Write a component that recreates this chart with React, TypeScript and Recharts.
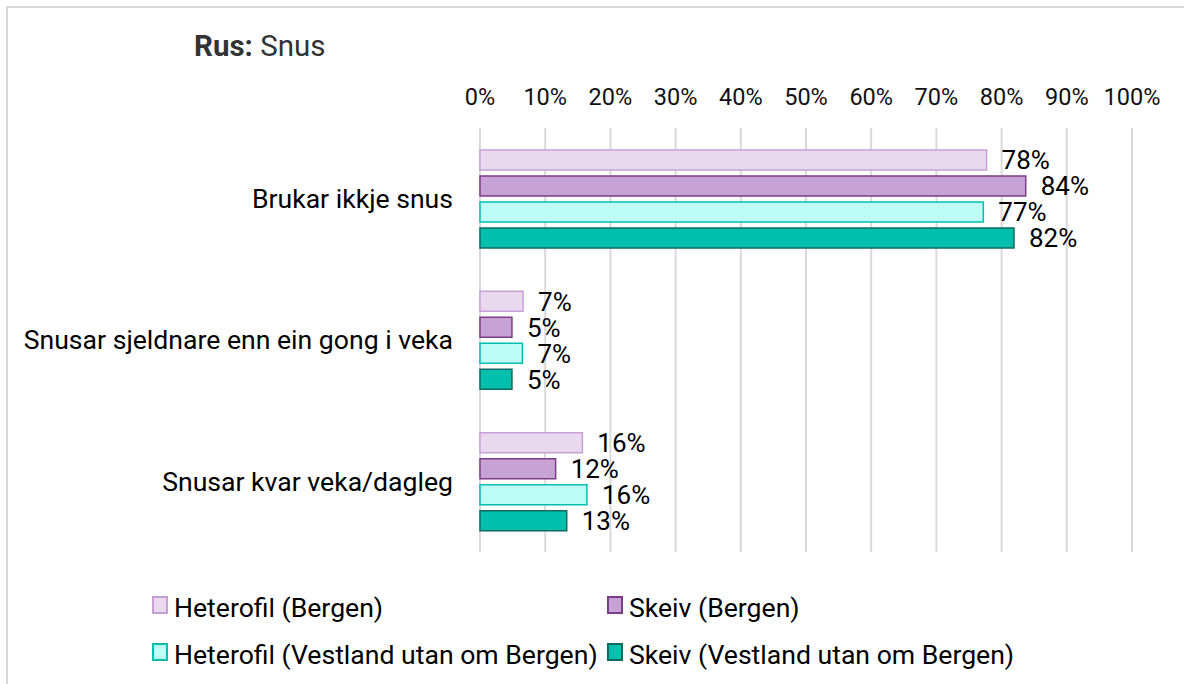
import React from 'react';
import { BarChart, Bar, XAxis, YAxis, CartesianGrid, LabelList } from 'recharts';

const categories = ['Brukar ikkje snus', 'Snusar sjeldnare enn ein gong i veka', 'Snusar kvar veka/dagleg'];
const seriesNames = ['Heterofil (Bergen)', 'Skeiv (Bergen)', 'Heterofil (Vestland utan om Bergen)', 'Skeiv (Vestland utan om Bergen)'];
const heteroBergen = [77.7, 6.6, 15.7];
const skeivBergen = [83.7, 4.9, 11.6];
const heteroVestland = [77.2, 6.5, 16.4];
const skeivVestland = [81.9, 4.9, 13.3];
const xTicks = [0, 10, 20, 30, 40, 50, 60, 70, 80, 90, 100];

const fills = ['#E9D9EF', '#C9A2D5', '#BEFCF6', '#00BFAD'];
const strokes = ['#C9A0D6', '#7A3D87', '#00BFAE', '#0F6A62'];
const keys = ['s0', 's1', 's2', 's3'];

const data = categories.map((name, i) => ({
  name,
  s0: heteroBergen[i],
  s1: skeivBergen[i],
  s2: heteroVestland[i],
  s3: skeivVestland[i],
}));

const FONT = 'Roboto, "Noto Sans", sans-serif';

const legendPos = [
  { x: 152, y: 617 },
  { x: 607, y: 617 },
  { x: 152, y: 664 },
  { x: 607, y: 664 },
];

export default function App() {
  return (
    <div style={{ position: 'absolute', left: 0, top: 0, width: 1184, height: 684, overflow: 'hidden', background: '#fff', fontFamily: FONT }}>
      <div style={{ position: 'absolute', left: 6, top: 6, width: 1300, height: 800, borderLeft: '2px solid #d9d9d9', borderTop: '2px solid #d9d9d9' }} />
      <div style={{ position: 'absolute', left: 0, top: 0 }}>
        <BarChart
          width={1184}
          height={684}
          data={data}
          layout="vertical"
          margin={{ top: 98, right: 52, bottom: 132, left: 0 }}
          barSize={20}
          barGap={6}
        >
          <CartesianGrid horizontal={false} stroke="#d9d9d9" strokeWidth={2} />
          <XAxis
            type="number"
            orientation="top"
            domain={[0, 100]}
            ticks={xTicks}
            tickFormatter={(v) => `${v}%`}
            axisLine={false}
            tickLine={false}
            tickSize={0}
            tickMargin={23}
            height={30}
            interval={0}
            tick={{ fill: '#111', fontSize: 23.5, fontFamily: FONT }}
          />
          <YAxis
            type="category"
            dataKey="name"
            width={480}
            axisLine={false}
            tickLine={false}
            tickSize={0}
            tickMargin={27}
            interval={0}
            tick={{ fill: '#000', fontSize: 26.6, fontFamily: FONT }}
          />
          {keys.map((k, i) => (
            <Bar key={k} dataKey={k} name={seriesNames[i]} fill={fills[i]} stroke={strokes[i]} strokeWidth={1.5} isAnimationActive={false}>
              <LabelList
                dataKey={k}
                position="right"
                offset={15}
                formatter={(v) => `${Math.round(Number(v))}%`}
                style={{ fill: '#000', fontSize: 26, fontFamily: FONT }}
              />
            </Bar>
          ))}
        </BarChart>
      </div>
      <svg width={1184} height={684} style={{ position: 'absolute', left: 0, top: 0, pointerEvents: 'none' }}>
        <text x={194} y={56} fontFamily={FONT} fontSize={29.5} fill="#333">
          <tspan fontWeight="bold">Rus:</tspan>
          <tspan> Snus</tspan>
        </text>
        {seriesNames.map((n, i) => (
          <g key={n}>
            <rect x={legendPos[i].x + 1} y={legendPos[i].y - 20} width={14} height={16} fill={fills[i]} stroke={strokes[i]} strokeWidth={2} />
            <text x={legendPos[i].x + 22} y={legendPos[i].y} fontFamily={FONT} fontSize={26.6} fill="#000">{n}</text>
          </g>
        ))}
      </svg>
    </div>
  );
}
